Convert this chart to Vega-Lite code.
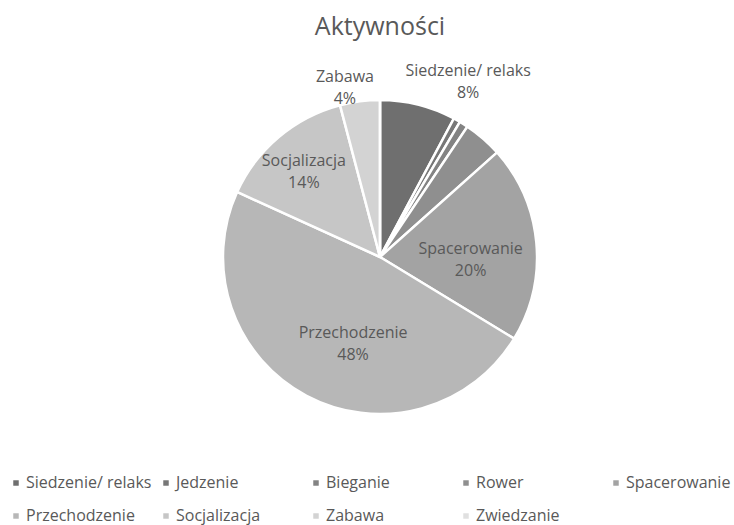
{
  "$schema": "https://vega.github.io/schema/vega-lite/v6.json",
  "width": 314,
  "height": 314,
  "autosize": {"type": "none"},
  "padding": {"left": 223, "top": 100, "right": 197, "bottom": 111},
  "background": "white",
  "config": {"view": {"stroke": null}, "font": "Open Sans"},
  "title": {
    "text": "Aktywności",
    "fontSize": 25,
    "font": "Open Sans",
    "fontWeight": "normal",
    "color": "#595959",
    "anchor": "middle",
    "baseline": "alphabetic",
    "offset": 3
  },
  "data": {
    "values": [
      {"activity": "Siedzenie/ relaks", "share": 7.8},
      {"activity": "Jedzenie", "share": 0.7},
      {"activity": "Bieganie", "share": 0.9},
      {"activity": "Rower", "share": 4.0},
      {"activity": "Spacerowanie", "share": 20.3},
      {"activity": "Przechodzenie", "share": 48.1},
      {"activity": "Socjalizacja", "share": 14.1},
      {"activity": "Zabawa", "share": 4.1},
      {"activity": "Zwiedzanie", "share": 0}
    ]
  },
  "transform": [
    {"stack": "share", "groupby": [], "as": ["s0", "s1"]},
    {"calculate": "(datum.s0 + datum.s1) / 2", "as": "mid"},
    {"calculate": "datum.activity + '\\n' + format(datum.share / 100, '.0%')", "as": "label"}
  ],
  "layer": [
    {
      "mark": {"type": "arc", "stroke": "white", "strokeWidth": 2.5},
      "encoding": {
        "theta": {"field": "s0", "type": "quantitative", "scale": {"domain": [0, 100]}},
        "theta2": {"field": "s1"},
        "color": {
          "field": "activity",
          "type": "nominal",
          "scale": {
            "domain": ["Siedzenie/ relaks", "Jedzenie", "Bieganie", "Rower", "Spacerowanie", "Przechodzenie", "Socjalizacja", "Zabawa", "Zwiedzanie"],
            "range": ["#6f6f6f", "#777777", "#838383", "#8f8f8f", "#a3a3a3", "#b7b7b7", "#c6c6c6", "#d3d3d3", "#e0e0e0"]
          },
          "legend": {
            "title": null,
            "orient": "none",
            "legendX": -215,
            "legendY": 375,
            "direction": "horizontal",
            "columns": 5,
            "gridAlign": "all",
            "columnPadding": 6,
            "rowPadding": 17,
            "symbolType": "square",
            "symbolSize": 30,
            "symbolStrokeWidth": 0,
            "labelFont": "Open Sans",
            "labelFontSize": 16,
            "labelColor": "#595959",
            "labelOffset": 2,
            "labelLimit": 300
          }
        }
      }
    },
    {
      "transform": [{"filter": "datum.activity === 'Siedzenie/ relaks'"}],
      "mark": {"type": "text", "radius": 190, "dx": 42, "dy": -2, "lineBreak": "\n", "lineHeight": 22, "fontSize": 16, "font": "Open Sans", "color": "#595959", "align": "center", "baseline": "middle"},
      "encoding": {"theta": {"field": "mid", "type": "quantitative", "scale": {"domain": [0, 100]}}, "text": {"field": "label"}}
    },
    {
      "transform": [{"filter": "datum.activity === 'Zabawa'"}],
      "mark": {"type": "text", "radius": 172, "dx": -13, "dy": -9, "lineBreak": "\n", "lineHeight": 22, "fontSize": 16, "font": "Open Sans", "color": "#595959", "align": "center", "baseline": "middle"},
      "encoding": {"theta": {"field": "mid", "type": "quantitative", "scale": {"domain": [0, 100]}}, "text": {"field": "label"}}
    },
    {
      "transform": [{"filter": "datum.activity === 'Socjalizacja'"}],
      "mark": {"type": "text", "radius": 115, "dx": -2, "dy": -8, "lineBreak": "\n", "lineHeight": 22, "fontSize": 16, "font": "Open Sans", "color": "#595959", "align": "center", "baseline": "middle"},
      "encoding": {"theta": {"field": "mid", "type": "quantitative", "scale": {"domain": [0, 100]}}, "text": {"field": "label"}}
    },
    {
      "transform": [{"filter": "datum.activity === 'Przechodzenie'"}],
      "mark": {"type": "text", "radius": 96, "dx": 18, "dy": -9, "lineBreak": "\n", "lineHeight": 22, "fontSize": 16, "font": "Open Sans", "color": "#595959", "align": "center", "baseline": "middle"},
      "encoding": {"theta": {"field": "mid", "type": "quantitative", "scale": {"domain": [0, 100]}}, "text": {"field": "label"}}
    },
    {
      "transform": [{"filter": "datum.activity === 'Spacerowanie'"}],
      "mark": {"type": "text", "radius": 91, "dx": 0, "dy": 0, "lineBreak": "\n", "lineHeight": 22, "fontSize": 16, "font": "Open Sans", "color": "#595959", "align": "center", "baseline": "middle"},
      "encoding": {"theta": {"field": "mid", "type": "quantitative", "scale": {"domain": [0, 100]}}, "text": {"field": "label"}}
    }
  ]
}
